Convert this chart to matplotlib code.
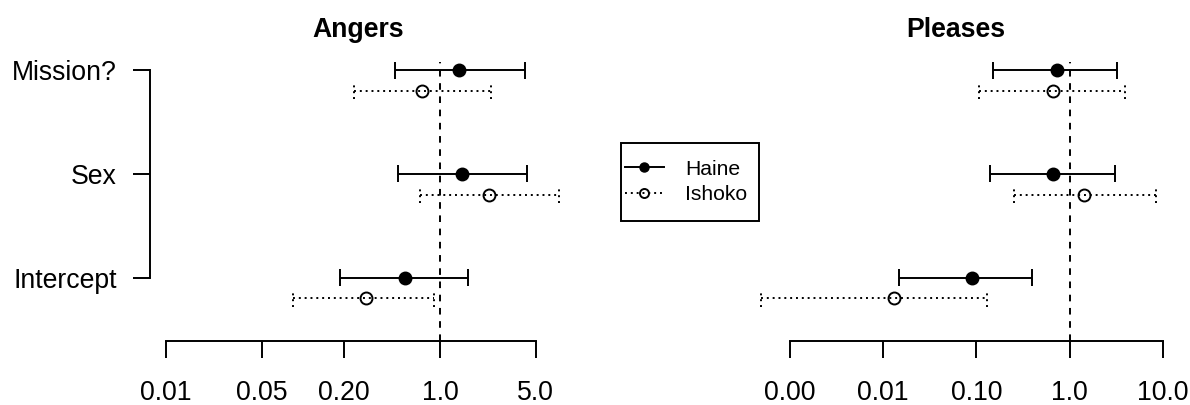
import numpy as np
import matplotlib
matplotlib.use("Agg")
import matplotlib.pyplot as plt
from matplotlib.lines import Line2D
from matplotlib.patches import Rectangle

plt.rcParams['font.family'] = ['Liberation Sans', 'DejaVu Sans']

# ---------------- data ----------------
categories = ["Intercept", "Sex", "Mission?"]
series_names = ["Haine", "Ishoko"]

angers_haine_est = [0.56, 1.44, 1.38]
angers_haine_lo = [0.188, 0.493, 0.472]
angers_haine_hi = [1.61, 4.30, 4.19]
angers_ishoko_est = [0.29, 2.28, 0.74]
angers_ishoko_lo = [0.0855, 0.711, 0.236]
angers_ishoko_hi = [0.91, 7.42, 2.36]

pleases_haine_est = [0.089, 0.666, 0.725]
pleases_haine_lo = [0.0147, 0.139, 0.151]
pleases_haine_hi = [0.400, 3.08, 3.23]
pleases_ishoko_est = [0.0132, 1.445, 0.666]
pleases_ishoko_lo = [0.00049, 0.252, 0.107]
pleases_ishoko_hi = [0.130, 8.38, 3.94]

angers_ticks = [0.01, 0.05, 0.2, 1.0, 5.0]
angers_ticklabels = ["0.01", "0.05", "0.20", "1.0", "5.0"]
pleases_ticks = [0.001, 0.01, 0.1, 1.0, 10.0]
pleases_ticklabels = ["0.00", "0.01", "0.10", "1.0", "10.0"]

# ---------------- layout ----------------
W, H = 1190, 405
fig = plt.figure(figsize=(W / 100, H / 100), dpi=100)
FS = 19.2
LW = 1.4
DASHED = (0, (3.4, 3.4))
DOTTED = (0, (1.0, 2.0))
CAP_H = 0.083      # half height of error-bar caps (data units)
OFFSET = 0.2       # vertical offset of second series

def px_axes(l, r, top, bottom):
    return fig.add_axes([l / W, 1 - bottom / H, (r - l) / W, (bottom - top) / H])

def log_lims(p0, v0, p1, v1, left, right):
    ppd = (p1 - p0) / (np.log10(v1) - np.log10(v0))
    lo = np.log10(v0) - (p0 - left) / ppd
    hi = np.log10(v0) + (right - p0) / ppd
    return 10 ** lo, 10 ** hi

ypos = np.arange(1, len(categories) + 1)

def panel(ax, title, h_est, h_lo, h_hi, i_est, i_lo, i_hi, ticks, ticklabels, show_y):
    ax.set_xscale('log')
    ax.axvline(1.0, color='k', lw=LW, linestyle=DASHED, zorder=1)
    specs = [(ypos, h_est, h_lo, h_hi, '-', 'k'),
             (ypos - OFFSET, i_est, i_lo, i_hi, DOTTED, 'none')]
    for y, est, lo, hi, ls, fc in specs:
        ax.hlines(y, lo, hi, color='k', lw=LW, linestyles=[ls], zorder=2)
        ax.vlines(lo, y - CAP_H, y + CAP_H, color='k', lw=LW, linestyles=[ls], zorder=2)
        ax.vlines(hi, y - CAP_H, y + CAP_H, color='k', lw=LW, linestyles=[ls], zorder=2)
        ax.plot(est, y, 'o', color='k', mfc=fc, mec='k', mew=LW, ms=8.6,
                linestyle='none', zorder=3)
    ax.set_title(title, fontsize=FS, fontweight='bold', pad=18)
    for s in ['top', 'right']:
        ax.spines[s].set_visible(False)
    ax.spines['bottom'].set_linewidth(LW)
    ax.spines['bottom'].set_bounds(ticks[0], ticks[-1])
    ax.set_xticks(ticks)
    ax.set_xticklabels(ticklabels)
    ax.xaxis.set_minor_locator(matplotlib.ticker.NullLocator())
    ax.tick_params(axis='x', length=12, width=LW, direction='out', pad=16, labelsize=FS)
    if show_y:
        ax.spines['left'].set_linewidth(LW)
        ax.spines['left'].set_bounds(ypos[0], ypos[-1])
        ax.set_yticks(ypos)
        ax.set_yticklabels(categories)
        ax.tick_params(axis='y', length=12, width=LW, direction='out', pad=12, labelsize=FS)
    else:
        ax.spines['left'].set_visible(False)
        ax.set_yticks([])

ylim = (0.39, 3.077)

ax1 = px_axes(150, 566, 62, 341)
ax1.set_xlim(*log_lims(165.7, 0.01, 535.7, 5.0, 150, 566))
ax1.set_ylim(*ylim)
panel(ax1, "Angers", angers_haine_est, angers_haine_lo, angers_haine_hi,
      angers_ishoko_est, angers_ishoko_lo, angers_ishoko_hi,
      angers_ticks, angers_ticklabels, True)

ax2 = px_axes(745, 1166, 62, 341)
ax2.set_xlim(*log_lims(790, 0.001, 1162.7, 10.0, 745, 1166))
ax2.set_ylim(*ylim)
panel(ax2, "Pleases", pleases_haine_est, pleases_haine_lo, pleases_haine_hi,
      pleases_ishoko_est, pleases_ishoko_lo, pleases_ishoko_hi,
      pleases_ticks, pleases_ticklabels, False)

# legend
handles = [Line2D([], [], color='k', lw=LW, marker='o', ms=6.5, mfc='k', mec='k'),
           Line2D([], [], color='k', lw=LW, linestyle=DOTTED, marker='o', ms=6.5,
                  mfc='none', mec='k', mew=LW)]
fig.legend(handles, series_names, loc='center', bbox_to_anchor=(686 / W, 1 - 182 / H),
           frameon=False, fontsize=15.2, handlelength=1.88, handletextpad=1.0,
           labelspacing=0.3, borderpad=0, borderaxespad=0)
fig.patches.append(Rectangle((620.7 / W, 1 - 220.7 / H), (759 - 620.7) / W, 78 / H,
                             transform=fig.transFigure, fill=False, lw=LW, ec='k'))

fig.savefig("out.png", dpi=100)
